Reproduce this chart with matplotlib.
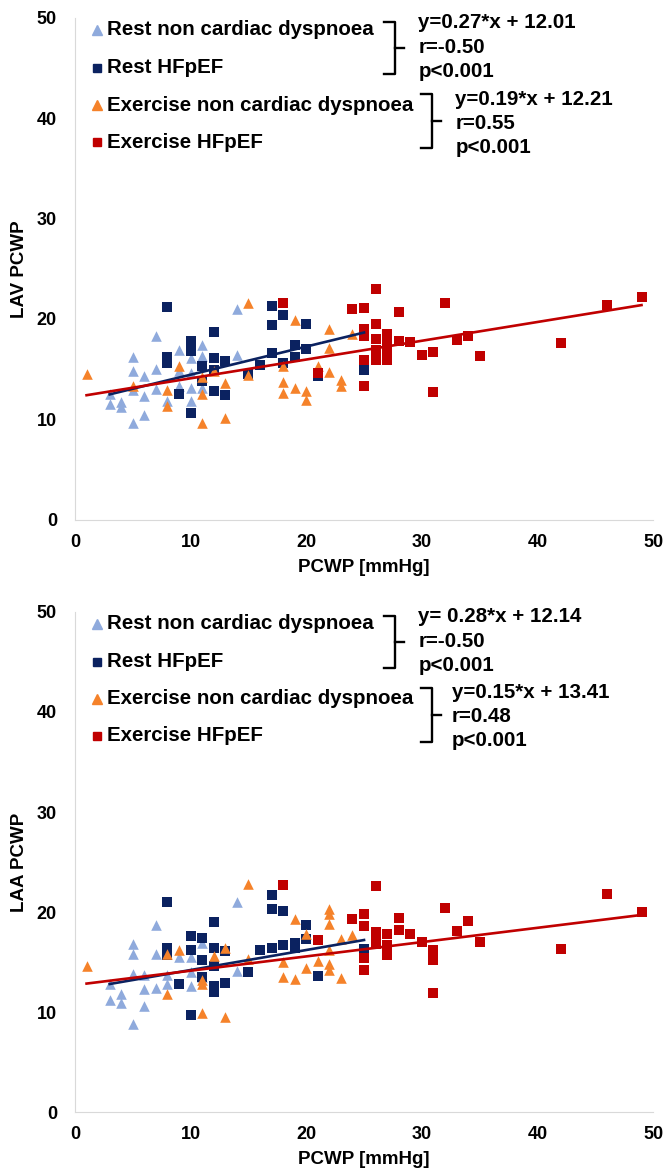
import matplotlib
matplotlib.use('Agg')
import matplotlib.pyplot as plt
import numpy as np

plt.rcParams['font.family'] = ['Liberation Sans', 'DejaVu Sans']
plt.rcParams['font.weight'] = 'bold'

# --- data ---
# top panel (LAV PCWP)
top_rest_ncd_x = [3, 3, 4, 4, 5, 5, 5, 5, 6, 6, 6, 7, 7, 7, 8, 9, 9, 9, 10, 10, 10, 10, 11, 11, 11, 14, 14]
top_rest_ncd_y = [12.5, 11.5, 11.7, 11.2, 16.2, 14.8, 12.9, 9.6, 14.3, 12.3, 10.4, 18.3, 15.0, 13.0, 11.8,
                  16.9, 14.8, 13.3, 16.1, 14.6, 13.1, 11.8, 17.4, 16.3, 13.1, 21.0, 16.4]
top_rest_hf_x = [8, 8, 8, 9, 10, 10, 10, 11, 11, 12, 12, 12, 12, 13, 13, 15, 16, 17, 17, 17,
                 18, 18, 19, 19, 20, 20, 21, 25]
top_rest_hf_y = [21.2, 16.2, 15.6, 12.5, 17.8, 16.8, 10.6, 15.3, 13.8, 18.7, 16.1, 14.9, 12.8, 15.8, 12.4,
                 14.5, 15.4, 21.3, 19.4, 16.6, 20.4, 15.6, 17.4, 16.2, 19.5, 17.0, 14.3, 14.9]
top_ex_ncd_x = [1, 5, 8, 8, 9, 11, 11, 11, 12, 13, 13, 15, 15, 18, 18, 18, 19, 19, 20, 20, 21, 22, 22, 22, 23, 23, 24]
top_ex_ncd_y = [14.5, 13.3, 12.9, 11.3, 15.3, 14.2, 12.5, 9.6, 14.8, 13.6, 10.1, 21.6, 14.4, 15.3, 13.7, 12.6,
                19.9, 13.1, 12.8, 11.9, 15.3, 19.0, 17.1, 14.7, 13.9, 13.3, 18.5]
top_ex_hf_x = [18, 21, 24, 25, 25, 25, 25, 25, 26, 26, 26, 26, 26, 27, 27, 27, 27, 28, 28, 29, 30, 31, 31,
               32, 33, 34, 35, 42, 46, 49]
top_ex_hf_y = [21.6, 14.6, 21.0, 21.1, 19.0, 18.3, 15.9, 13.3, 23.0, 19.5, 18.0, 16.9, 15.9, 18.5, 17.9, 16.9,
               15.9, 20.7, 17.8, 17.7, 16.4, 16.7, 12.7, 21.6, 17.9, 18.3, 16.3, 17.6, 21.4, 22.2]

# bottom panel (LAA PCWP)
bot_rest_ncd_x = [3, 3, 4, 4, 5, 5, 5, 5, 6, 6, 6, 7, 7, 7, 8, 8, 9, 10, 10, 10, 11, 11, 14, 14]
bot_rest_ncd_y = [12.8, 11.2, 11.8, 10.9, 16.8, 15.8, 13.8, 8.8, 13.7, 12.3, 10.6, 18.7, 15.8, 12.4, 13.7,
                  12.8, 15.5, 15.5, 14.0, 12.6, 16.9, 13.5, 21.0, 14.1]
bot_rest_hf_x = [8, 8, 8, 9, 10, 10, 10, 11, 11, 11, 12, 12, 12, 12, 12, 13, 13, 15, 16, 17, 17, 17,
                 18, 18, 19, 19, 20, 20, 21, 25]
bot_rest_hf_y = [21.0, 16.4, 15.7, 12.8, 17.6, 16.2, 9.7, 17.4, 15.2, 13.5, 19.0, 16.4, 14.6, 12.6, 12.0,
                 16.1, 12.9, 14.0, 16.2, 21.7, 20.3, 16.4, 20.1, 16.7, 16.9, 16.4, 18.7, 17.3, 13.6, 16.3]
bot_ex_ncd_x = [1, 8, 9, 8, 11, 11, 11, 12, 13, 13, 15, 15, 18, 18, 19, 19, 20, 20, 21, 22, 22, 22, 22,
                22, 22, 23, 23, 24]
bot_ex_ncd_y = [14.6, 15.8, 16.2, 11.8, 13.2, 12.8, 9.9, 15.6, 16.4, 9.5, 22.8, 15.3, 15.0, 13.5, 19.3,
                13.3, 17.8, 14.4, 15.1, 20.3, 19.8, 18.8, 16.2, 14.8, 14.2, 17.3, 13.4, 17.7]
bot_ex_hf_x = [18, 21, 24, 25, 25, 25, 25, 26, 26, 26, 26, 27, 27, 27, 28, 28, 29, 30, 31, 31, 31,
               32, 33, 34, 35, 42, 46, 49]
bot_ex_hf_y = [22.7, 17.2, 19.3, 19.8, 18.6, 15.4, 14.2, 22.6, 18.0, 17.4, 16.8, 17.8, 16.7, 15.7, 19.4,
               18.2, 17.8, 17.0, 16.2, 15.2, 11.9, 20.4, 18.1, 19.1, 17.0, 16.3, 21.8, 20.0]

# trend lines as drawn (slope, intercept)
top_rest_line = (0.28, 11.65)
top_ex_line = (0.187, 12.22)
bot_rest_line = (0.20, 12.2)
bot_ex_line = (0.143, 12.7)

labels = ['Rest non cardiac dyspnoea', 'Rest HFpEF', 'Exercise non cardiac dyspnoea', 'Exercise HFpEF']
top_stats = [['y=0.27*x + 12.01', 'r=-0.50', 'p<0.001'], ['y=0.19*x + 12.21', 'r=0.55', 'p<0.001']]
bot_stats = [['y= 0.28*x + 12.14', 'r=-0.50', 'p<0.001'], ['y=0.15*x + 13.41', 'r=0.48', 'p<0.001']]

c_lblue = '#8FAADC'
c_navy = '#0B2260'
c_orange = '#F5822A'
c_red = '#C00000'

FS = 14.8

fig = plt.figure(figsize=(6.66, 11.76), dpi=100)
ax1 = fig.add_axes([0.1126, 0.558, 0.868, 0.4269])
ax2 = fig.add_axes([0.1126, 0.0544, 0.868, 0.4252])


def panel(ax, d, lines, ylab, stats, br2x, eq2x):
    rx, ry, hx, hy, ex, ey, fx, fy = d
    ax.scatter(rx, ry, marker='^', s=58, color=c_lblue, linewidths=0, zorder=2)
    ax.scatter(hx, hy, marker='s', s=50, color=c_navy, linewidths=0, zorder=3)
    ax.scatter(ex, ey, marker='^', s=58, color=c_orange, linewidths=0, zorder=4)
    ax.scatter(fx, fy, marker='s', s=50, color=c_red, linewidths=0, zorder=5)

    xr = np.array([min(rx + hx), max(rx + hx)])
    ax.plot(xr, lines[0][0] * xr + lines[0][1], color=c_navy, lw=1.9, zorder=6)
    xe = np.array([min(ex + fx), max(ex + fx)])
    ax.plot(xe, lines[1][0] * xe + lines[1][1], color=c_red, lw=1.9, zorder=7)

    ax.set_xlim(0, 50)
    ax.set_ylim(0, 50)
    ax.set_xticks(range(0, 51, 10))
    ax.set_yticks(range(0, 51, 10))
    ax.tick_params(length=0, labelsize=13)
    ax.tick_params(axis='x', pad=10)
    ax.tick_params(axis='y', pad=13)
    for s in ['top', 'right']:
        ax.spines[s].set_visible(False)
    for s in ['left', 'bottom']:
        ax.spines[s].set_color('#D9D9D9')
    ax.set_xlabel('PCWP [mmHg]', fontsize=13.5, fontweight='bold', labelpad=6)
    ax.set_ylabel(ylab, fontsize=13.5, fontweight='bold', labelpad=6)

    # legend entries
    rows = [48.8, 45.0, 41.3, 37.6]
    marks = ['^', 's', '^', 's']
    cols = [c_lblue, c_navy, c_orange, c_red]
    for lab, yy, m, c in zip(labels, rows, marks, cols):
        ax.plot([1.9], [yy], marker=m, ms=6.5 if m == '^' else 5.2, color=c, ls='none', clip_on=False)
        ax.text(2.75, yy, lab, fontsize=FS, fontweight='bold', va='center', ha='left')

    # brackets
    def bracket(x, y0, y1, serif=0.95, tick=0.75):
        ym = (y0 + y1) / 2
        ax.plot([x - serif, x, x, x - serif], [y1, y1, y0, y0], color='black', lw=1.7,
                solid_joinstyle='round', clip_on=False)
        ax.plot([x, x + tick], [ym, ym], color='black', lw=1.7, clip_on=False)

    bracket(27.7, 44.4, 49.6)
    bracket(br2x, 37.0, 42.4)

    for t, yy in zip(stats[0], [49.5, 47.0, 44.6]):
        ax.text(29.7, yy, t, fontsize=FS, fontweight='bold', va='center', ha='left')
    for t, yy in zip(stats[1], [41.9, 39.5, 37.1]):
        ax.text(eq2x, yy, t, fontsize=FS, fontweight='bold', va='center', ha='left')


panel(ax1, (top_rest_ncd_x, top_rest_ncd_y, top_rest_hf_x, top_rest_hf_y,
            top_ex_ncd_x, top_ex_ncd_y, top_ex_hf_x, top_ex_hf_y),
      (top_rest_line, top_ex_line), 'LAV PCWP', top_stats, 30.9, 32.9)
panel(ax2, (bot_rest_ncd_x, bot_rest_ncd_y, bot_rest_hf_x, bot_rest_hf_y,
            bot_ex_ncd_x, bot_ex_ncd_y, bot_ex_hf_x, bot_ex_hf_y),
      (bot_rest_line, bot_ex_line), 'LAA PCWP', bot_stats, 30.9, 32.6)

fig.savefig('out.png', dpi=100)
